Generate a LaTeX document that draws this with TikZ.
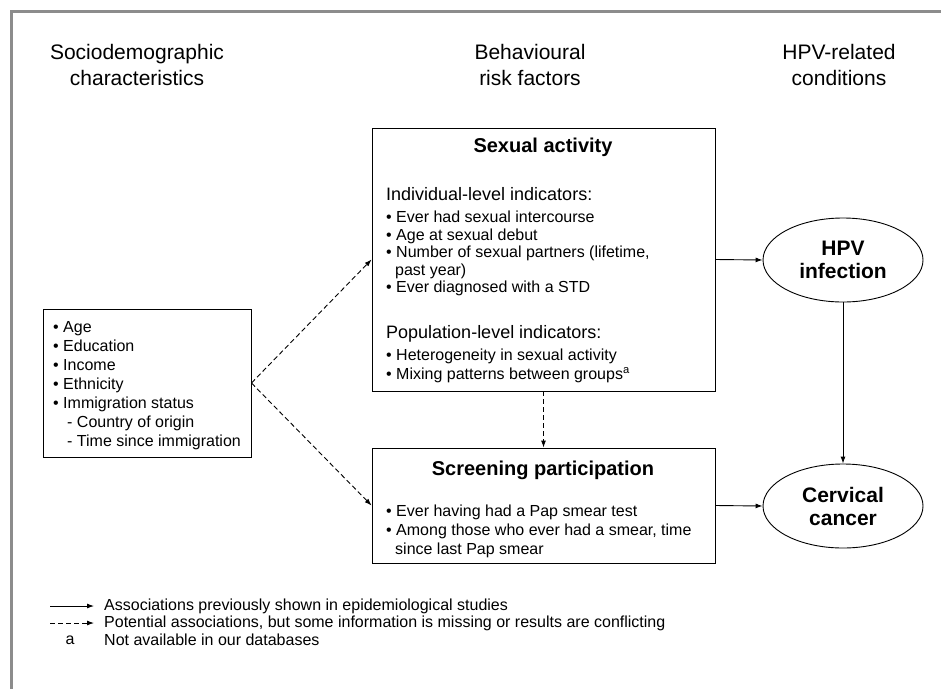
\documentclass[tikz,border=0pt]{standalone}
\usepackage{fontspec}
\setmainfont{Liberation Sans}
\usetikzlibrary{arrows.meta,positioning,shapes.geometric}
\definecolor{framegray}{gray}{0.55}
\tikzset{
x=1pt, y=-1pt, % pixel grid, y going down
box/.style={draw, line width=0.9pt, inner sep=0pt}, % the three rectangles
heading/.style={align=center, font=\fontsize{21}{26}\selectfont},
boxtitle/.style={font=\bfseries\fontsize{20}{24}\selectfont},
subhead/.style={anchor=base west, inner sep=0pt, font=\fontsize{18}{21}\selectfont},
items/.style={align=left, anchor=north west, inner sep=0pt, font=\fontsize{16}{19}\selectfont},
outcome/.style={draw, ellipse, line width=0.9pt, minimum width=160pt, minimum height=84pt, inner sep=0pt, align=center, font=\bfseries\fontsize{21}{23}\selectfont},
shown/.style={-{Latex[length=7pt,width=5pt]}, line width=0.9pt}, % solid arrows
potential/.style={shown, dash pattern=on 5pt off 3pt}, % dashed arrows
keytext/.style={anchor=west, inner sep=0pt, font=\fontsize{16}{18}\selectfont},
}

\begin{document}
\begin{tikzpicture}
\useasboundingbox (0,0) rectangle (941,688);
\draw[framegray, line width=3pt] (11.5,720) -- (11.5,11.5) -- (980,11.5);

% column headings
\node[heading] (h_socio) at (137,65) {Sociodemographic\\characteristics};
\node[heading] (h_behav) at (530,65) {Behavioural\\risk factors};
\node[heading] (h_hpv) at (839,65) {HPV-related\\conditions};

% boxes
\node[box, minimum width=208pt, minimum height=148pt] (socio) at (147,383) {};
\node[box, minimum width=343pt, minimum height=263pt] (sexual) at (543.5,259.5) {};
\node[box, minimum width=343pt, minimum height=115pt] (screen) at (543.5,505.5) {};

\node[items] (socio_list) at (53,321.5) {\textbullet\ Age\\ \textbullet\ Education\\ \textbullet\ Income\\ \textbullet\ Ethnicity\\ \textbullet\ Immigration status\\ \hspace*{14pt}- Country of origin\\ \hspace*{14pt}- Time since immigration};

\node[boxtitle] (sexual_title) at (543,147) {Sexual activity};
\node[subhead] (indiv) at (386,200.3) {Individual-level indicators:};
\node[items, font=\fontsize{16}{17.5}\selectfont] (indiv_list) at (386,211.1) {\textbullet\ Ever had sexual intercourse\\ \textbullet\ Age at sexual debut\\ \textbullet\ Number of sexual partners (lifetime,\\ \hspace*{9pt}past year)\\ \textbullet\ Ever diagnosed with a STD};
\node[subhead] (popul) at (386,338.3) {Population-level indicators:};
\node[items, font=\fontsize{16}{18.5}\selectfont] (popul_list) at (386,349.1) {\textbullet\ Heterogeneity in sexual activity\\ \textbullet\ Mixing patterns between groups\textsuperscript{a}};

\node[boxtitle] (screen_title) at (543,470) {Screening participation};
\node[items] (screen_list) at (386,505.1) {\textbullet\ Ever having had a Pap smear test\\ \textbullet\ Among those who ever had a smear, time\\ \hspace*{9pt}since last Pap smear};

% outcomes
\node[outcome] (hpv) at (843,260) {HPV\\infection};
\node[outcome] (cancer) at (843,506) {Cervical\\cancer};

% associations
\path[potential]
(socio.east) edge (sexual.west)
(socio.east) edge (screen.west)
(sexual.south) edge (screen.north);
\path[shown]
(sexual.east) edge (hpv.west)
(screen.east) edge (cancer.west)
(hpv.south) edge (cancer.north);

% key
\coordinate (k1a) at (50,606);
\coordinate (k1b) at (94,606);
\coordinate (k2a) at (50,623);
\coordinate (k2b) at (94,623);
\draw[shown] (k1a) -- (k1b);
\draw[potential] (k2a) -- (k2b);
\node[keytext, anchor=center] (k3) at (70,640) {a};
\node[keytext] (t1) at (104,606) {Associations previously shown in epidemiological studies};
\node[keytext] (t2) at (104,623) {Potential associations, but some information is missing or results are conflicting};
\node[keytext] (t3) at (104,640) {Not available in our databases};
\end{tikzpicture}
\end{document}
